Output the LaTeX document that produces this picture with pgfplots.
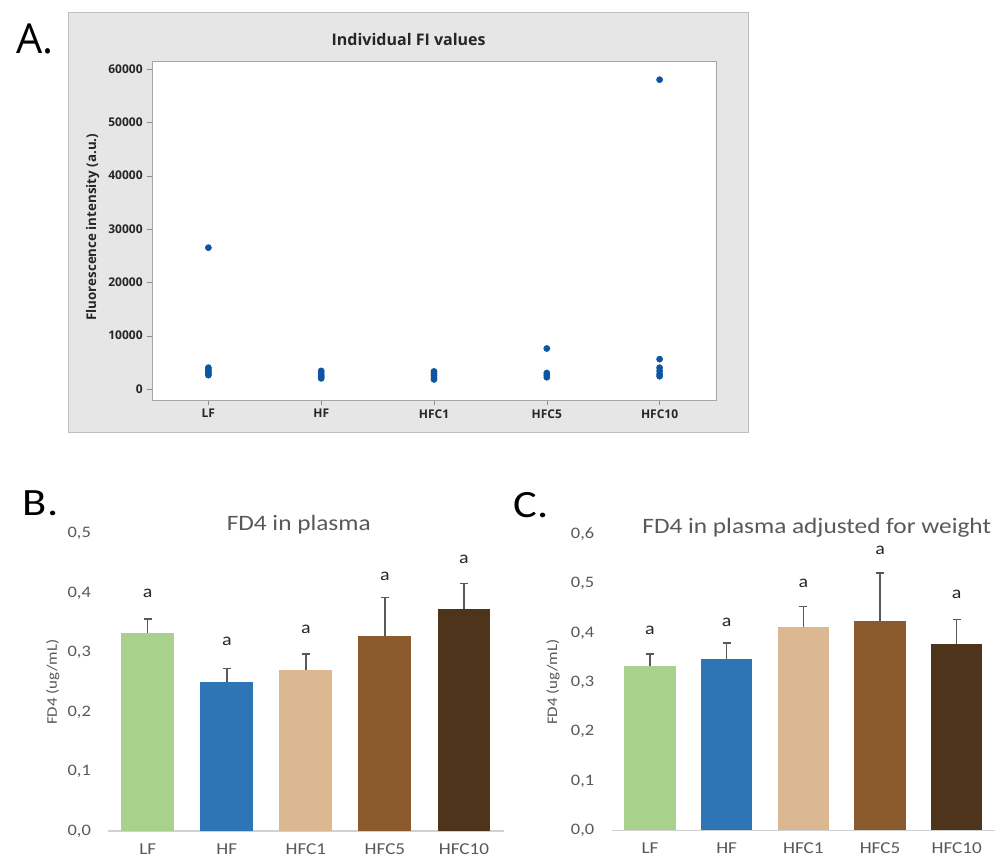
\documentclass[border=0pt]{standalone}
\usepackage{fontspec}
\setmainfont{Carlito}[FakeStretch=1.15]
\newfontfamily\segoe{Open Sans}
\usepackage{pgfplots}
\pgfplotsset{compat=1.18}
\definecolor{cLF}{HTML}{A9D18E}
\definecolor{cHF}{HTML}{2E75B6}
\definecolor{cHa}{HTML}{DBB792}
\definecolor{cHb}{HTML}{8B5B2E}
\definecolor{cHc}{HTML}{4F341C}
\definecolor{txt}{HTML}{595959}
\definecolor{dotc}{HTML}{0B55A3}
\definecolor{panelgray}{HTML}{E6E6E6}
\pgfplotsset{
  barpanel/.style={
    scale only axis, anchor=north west, clip=false,
    xmin=-0.5, xmax=4.5, ymin=0,
    axis x line*=bottom, axis y line*=left,
    y axis line style={draw=none},
    x axis line style={draw=black!18, line width=0.9pt},
    major tick length=0pt,
    xtick={0,1,2,3,4}, xticklabels={LF,HF,HFC1,HFC5,HFC10},
    xticklabel style={font=\fontsize{12.5}{14}\selectfont, text=txt, yshift=-6pt},
    yticklabel style={font=\fontsize{12}{14}\selectfont, text=txt, xshift=-9.5pt,
      /pgf/number format/.cd, use comma, fixed, fixed zerofill, precision=1, assume math mode=true},
    ylabel={FD4 (ug/mL)},
    ylabel style={font=\fontsize{11}{12}\selectfont, text=txt, anchor=center},
    title style={font=\fontsize{16.5}{18}\selectfont, text=txt, anchor=base},
    ybar, bar width=0.67,
  },
  ebars/.style={
    error bars/y dir=plus, error bars/y explicit,
    error bars/error bar style={line width=1.1pt, color=txt},
    error bars/error mark options={rotate=90, mark size=3pt, line width=1.1pt, color=txt},
  },
  letters/.style={sharp plot, draw=none, mark=none, nodes near coords={a},
    every node near coord/.append style={anchor=center, inner sep=0pt,
      font=\fontsize{13}{15}\selectfont, text=black!85}},
}
\begin{document}
\begin{tikzpicture}
\useasboundingbox (0,0) rectangle (748.5pt,-645.75pt);
\fill[white] (0,0) rectangle (748.5pt,-645.75pt);
\filldraw[fill=panelgray, draw=black!25] (51pt,-9pt) rectangle (561pt,-324pt);
\node[anchor=base west, inner sep=0, font=\segoe\fontsize{31}{31}\selectfont] at (12pt,-39.75pt) {A.};
\node[anchor=base west, inner sep=0, font=\fontsize{29}{29}\selectfont] at (17pt,-386.5pt) {B.};
\node[anchor=base west, inner sep=0, font=\fontsize{29}{29}\selectfont] at (385pt,-388pt) {C.};

% Panel A
\begin{axis}[at={(114pt,-45.75pt)}, anchor=north west, scale only axis,
  width=423pt, height=254.25pt, clip=false,
  axis background/.style={fill=white},
  xmin=-0.5, xmax=4.5, ymin=-2062, ymax=61500,
  xtick={0,1,2,3,4}, xticklabels={LF,HF,HFC1,HFC5,HFC10},
  ytick={0,10000,20000,30000,40000,50000,60000},
  scaled y ticks=false,
  axis line style={draw=black!35},
  tick style={draw=black!45}, tick align=outside,
  xtick pos=bottom, ytick pos=left, major tick length=3.5pt,
  tick label style={font=\segoe\bfseries\fontsize{9}{10}\selectfont, text=black!85},
  yticklabel style={/pgf/number format/.cd, fixed, precision=0, 1000 sep={}, assume math mode=true},
  title={Individual FI values},
  title style={font=\segoe\bfseries\fontsize{12}{14}\selectfont, text=black!85,
    at={(0.455,1)}, anchor=base, yshift=5.5pt},
  ylabel={Fluorescence intensity (a.u.)},
  ylabel style={font=\segoe\bfseries\fontsize{10}{11}\selectfont, text=black!85,
    at={(axis description cs:-0.105,0.51)}, anchor=center},
]
\addplot[only marks, mark=*, mark size=2.3pt, color=dotc] table {
x y
0 26500
0 4000
0 3600
0 3200
0 2900
0 2600
1 3400
1 3000
1 2600
1 2300
1 2000
2 3300
2 2900
2 2500
2 2100
2 1800
3 7600
3 3000
3 2600
3 2200
4 58000
4 5600
4 4000
4 3400
4 2800
4 2400
};
\end{axis}

% Panel B
\begin{axis}[barpanel, at={(81.15pt,-400pt)}, width=296.5pt, height=223.3pt,
  ymax=0.5, ytick={0,0.1,0.2,0.3,0.4,0.5},
  title={FD4 in plasma}, title style={at={(0.482,1)}, yshift=-4pt},
  ylabel style={at={(axis description cs:-0.14,0.5)}},
]
\addplot[fill=cLF, draw=none, bar shift=0pt, ebars] coordinates {(0,0.3333) +- (0,0.0225)};
\addplot[fill=cHF, draw=none, bar shift=0pt, ebars] coordinates {(1,0.2499) +- (0,0.0235)};
\addplot[fill=cHa, draw=none, bar shift=0pt, ebars] coordinates {(2,0.2711) +- (0,0.0264)};
\addplot[fill=cHb, draw=none, bar shift=0pt, ebars] coordinates {(3,0.3282) +- (0,0.0645)};
\addplot[fill=cHc, draw=none, bar shift=0pt, ebars] coordinates {(4,0.3736) +- (0,0.0420)};
\addplot[letters] coordinates {(0,0.400) (1,0.3193) (2,0.3395) (3,0.4274) (4,0.4571)};
\end{axis}

% Panel C
\begin{axis}[barpanel, at={(458.7pt,-400.7pt)}, width=287.6pt, height=222pt,
  ymax=0.6, ytick={0,0.1,0.2,0.3,0.4,0.5,0.6},
  title={FD4 in plasma adjusted for weight}, title style={at={(0.535,1)}, yshift=-5.5pt},
  ylabel style={at={(axis description cs:-0.153,0.5)}},
]
\addplot[fill=cLF, draw=none, bar shift=0pt, ebars] coordinates {(0,0.3333) +- (0,0.0237)};
\addplot[fill=cHF, draw=none, bar shift=0pt, ebars] coordinates {(1,0.3475) +- (0,0.0318)};
\addplot[fill=cHa, draw=none, bar shift=0pt, ebars] coordinates {(2,0.4111) +- (0,0.0426)};
\addplot[fill=cHb, draw=none, bar shift=0pt, ebars] coordinates {(3,0.4233) +- (0,0.0980)};
\addplot[fill=cHc, draw=none, bar shift=0pt, ebars] coordinates {(4,0.3779) +- (0,0.0495)};
\addplot[letters] coordinates {(0,0.4057) (1,0.4219) (2,0.501) (3,0.568) (4,0.4787)};
\end{axis}
\end{tikzpicture}
\end{document}
